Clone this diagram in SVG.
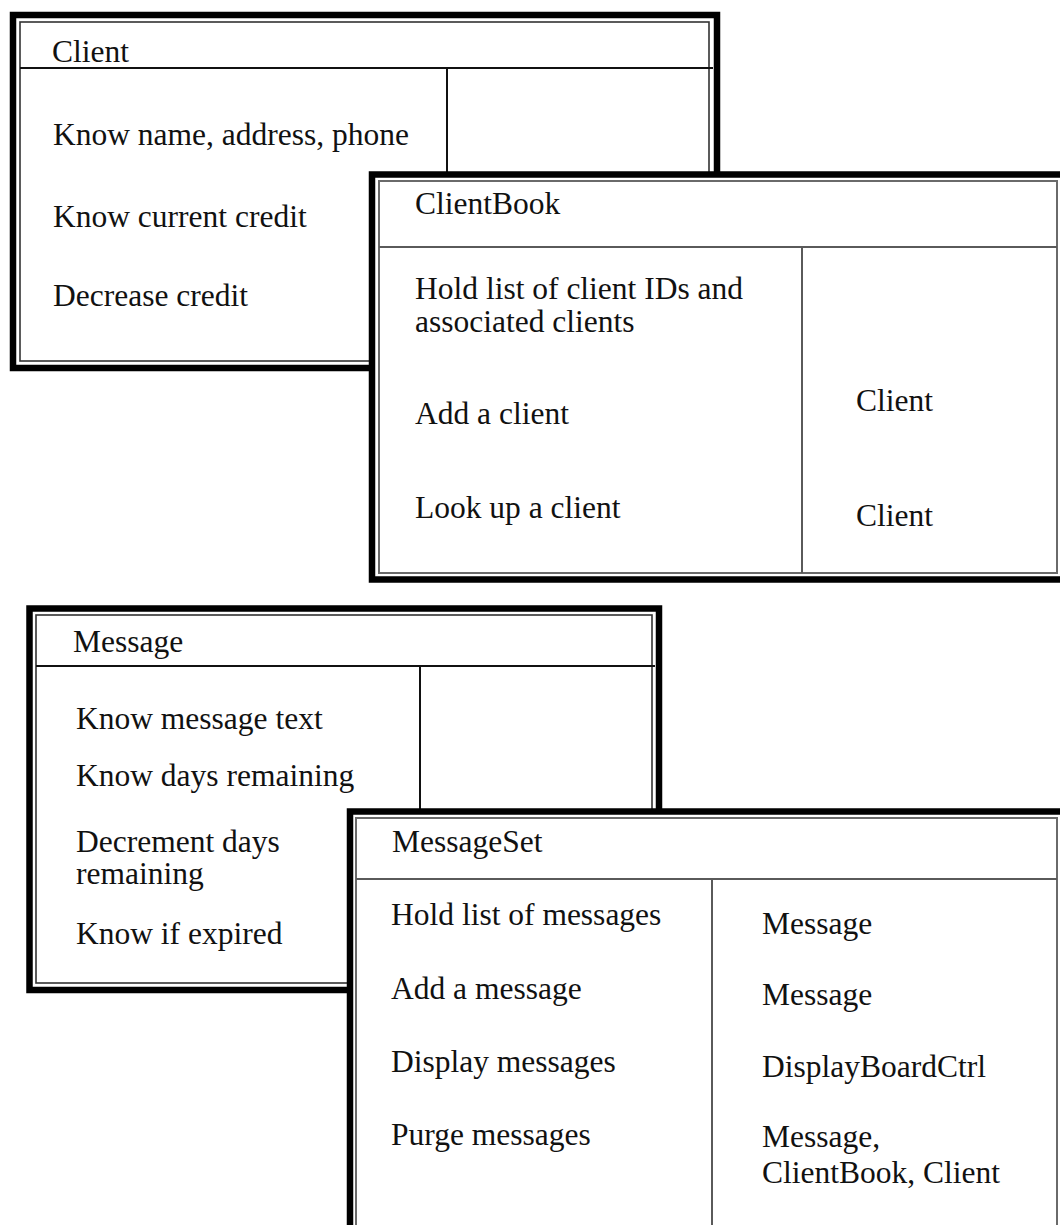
<svg xmlns="http://www.w3.org/2000/svg" width="1060" height="1225" viewBox="0 0 1060 1225">
  <style>
    .frame { fill: #ffffff; stroke: #000000; stroke-width: 6.5; }
    .inner { fill: none; stroke: #333333; stroke-width: 1.6; }
    .inner.soft { stroke: #6a6a6a; stroke-width: 2; }
    .rule { stroke: #111111; stroke-width: 2; fill: none; }
    .rule.soft { stroke: #5a5a5a; stroke-width: 2; }
    text { font-family: "Liberation Serif", "Times New Roman", serif; font-size: 31.5px; fill: #111111; }
  </style>

  <!-- CRC card: Client -->
  <g id="client">
    <rect class="frame" x="13" y="15" width="704" height="353"/>
    <rect class="inner" x="20" y="22" width="689" height="339"/>
    <line class="rule" x1="20" y1="68" x2="713" y2="68"/>
    <line class="rule" x1="447" y1="68" x2="447" y2="361"/>
    <text x="52" y="62">Client</text>
    <text x="53" y="145">Know name, address, phone</text>
    <text x="53" y="227">Know current credit</text>
    <text x="53" y="306">Decrease credit</text>
  </g>

  <!-- CRC card: ClientBook -->
  <g id="clientbook">
    <rect class="frame" x="372" y="174.5" width="692" height="405"/>
    <rect class="inner soft" x="379" y="181" width="678" height="392"/>
    <line class="rule soft" x1="379" y1="247" x2="1057" y2="247"/>
    <line class="rule soft" x1="802" y1="247" x2="802" y2="573"/>
    <text x="415" y="214">ClientBook</text>
    <text x="415" y="299">Hold list of client IDs and</text>
    <text x="415" y="332">associated clients</text>
    <text x="415" y="424">Add a client</text>
    <text x="415" y="518">Look up a client</text>
    <text x="856" y="411">Client</text>
    <text x="856" y="526">Client</text>
  </g>

  <!-- CRC card: Message -->
  <g id="message">
    <rect class="frame" x="29.5" y="608.5" width="629.5" height="381.5"/>
    <rect class="inner" x="36" y="615" width="616" height="368"/>
    <line class="rule" x1="36" y1="666" x2="655" y2="666"/>
    <line class="rule" x1="420" y1="666" x2="420" y2="983"/>
    <text x="73" y="652">Message</text>
    <text x="76" y="729">Know message text</text>
    <text x="76" y="786">Know days remaining</text>
    <text x="76" y="852">Decrement days</text>
    <text x="76" y="884">remaining</text>
    <text x="76" y="944">Know if expired</text>
  </g>

  <!-- CRC card: MessageSet -->
  <g id="messageset">
    <rect class="frame" x="350" y="811.5" width="714" height="430"/>
    <rect class="inner soft" x="356" y="818" width="701" height="420"/>
    <line class="rule soft" x1="356" y1="879" x2="1057" y2="879"/>
    <line class="rule soft" x1="712" y1="879" x2="712" y2="1238"/>
    <text x="392" y="852">MessageSet</text>
    <text x="391" y="925">Hold list of messages</text>
    <text x="391" y="999">Add a message</text>
    <text x="391" y="1072">Display messages</text>
    <text x="391" y="1145">Purge messages</text>
    <text x="762" y="934">Message</text>
    <text x="762" y="1005">Message</text>
    <text x="762" y="1077">DisplayBoardCtrl</text>
    <text x="762" y="1147">Message,</text>
    <text x="762" y="1183">ClientBook, Client</text>
  </g>

  <!-- no connectors between the cards -->
  <g id="connectors"/>
</svg>
